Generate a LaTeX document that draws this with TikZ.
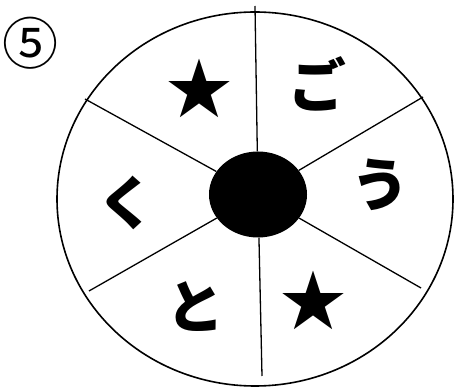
\documentclass[tikz,border=0pt]{standalone}
\usepackage{fontspec}
\newfontfamily\jpfont{Noto Sans CJK JP}
\usetikzlibrary{shapes.geometric}

\begin{document}
\begin{tikzpicture}[
    x=1pt, y=-1pt,
    rim/.style={draw, line width=1.6pt, ellipse, inner sep=0pt},
    spoke/.style={line width=1.3pt},
    hubdot/.style={ellipse, fill=black, minimum width=98pt, minimum height=86pt,
        inner sep=0pt},
    kana/.style={font=\jpfont\bfseries\fontsize{58}{58}\selectfont, inner sep=0pt},
    starglyph/.style={font=\jpfont\fontsize{66}{66}\selectfont, inner sep=0pt},
]
    \useasboundingbox (0,0) rectangle (456,387);

    \node[rim, minimum width=396pt, minimum height=374pt] (wheel) at (255,199) {};
    \node[hubdot] (hub) at (258,194.5) {};

    % spoke ends
    \coordinate (top) at (255,6);
    \coordinate (bot) at (262,376);
    \coordinate (ul) at (85,99);
    \coordinate (ll) at (89,291);
    \coordinate (ur) at (423,97);
    \coordinate (lr) at (421,288);

    \foreach \e in {top, bot, ul, ll, ur, lr}
        \draw[spoke] (hub) -- (\e);

    \node[kana] (go) at (317,84) {ご};
    \node[kana] (u) at (380,185) {う};
    \node[kana] (ku) at (126,203) {く};
    \node[kana] (to) at (195,307) {と};
    \node[starglyph] (starA) at (199,88) {★};
    \node[starglyph] (starB) at (313,300) {★};

    \node[font=\jpfont\fontsize{56}{56}\selectfont, inner sep=0pt] (num) at (30,43) {⑤};
\end{tikzpicture}
\end{document}
